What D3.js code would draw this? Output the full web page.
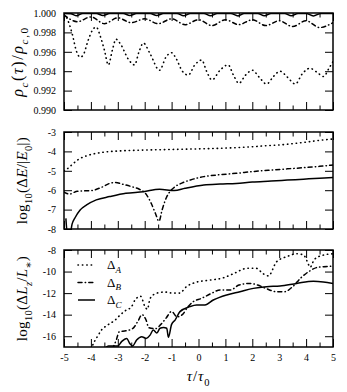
<!DOCTYPE html>
<html>
<head>
<meta charset="utf-8">
<script src="https://cdn.jsdelivr.net/npm/d3@7"></script>
<style>
body { margin: 0; background: #fff; }
svg { display: block; }
text { font-family: "Liberation Serif", "DejaVu Serif", serif; fill: #000; }
</style>
</head>
<body>
<svg id="chart"></svg>
<script>
'use strict';

// tick values
var tauTicks = [-5, -4, -3, -2, -1, 0, 1, 2, 3, 4, 5];
var tauMinor = [-4.5, -3.5, -2.5, -1.5, -0.5, 0.5, 1.5, 2.5, 3.5, 4.5];
var rhoTicks = [0.990, 0.992, 0.994, 0.996, 0.998, 1.000];
var energyTicks = [-8, -7, -6, -5, -4, -3];
var angTicks = [-16, -14, -12, -10, -8];

// panel 1: central density
var rhoA = [[-5, 0.99985], [-4.9, 0.9995], [-4.7, 0.9979], [-4.53, 0.9960], [-4.4, 0.99545], [-4.3, 0.9956],
    [-4.1, 0.9972], [-3.95, 0.9982], [-3.8, 0.99855], [-3.65, 0.9976], [-3.5, 0.9962], [-3.35, 0.99465],
    [-3.2, 0.9962], [-3.07, 0.9973], [-2.9, 0.9968], [-2.6, 0.9952], [-2.38, 0.99465], [-2.2, 0.9961],
    [-2.05, 0.9969], [-1.8, 0.9958], [-1.45, 0.9941], [-1.2, 0.9955], [-1.0, 0.9959], [-0.85, 0.9954],
    [-0.6, 0.9940], [-0.38, 0.9936], [-0.15, 0.9946], [0.12, 0.99515], [0.3, 0.9940], [0.5, 0.9931],
    [0.8, 0.9941], [1.1, 0.99465], [1.3, 0.9936], [1.5, 0.99275], [1.75, 0.9936], [2.0, 0.9941],
    [2.25, 0.9934], [2.53, 0.99268], [2.8, 0.9935], [3.03, 0.9940], [3.3, 0.9934], [3.6, 0.99268],
    [3.85, 0.9937], [4.14, 0.9943], [4.4, 0.9939], [4.65, 0.99345], [4.85, 0.9943], [5, 0.9950]];
var rhoB = [[-5, 0.9998], [-4.5, 0.9991], [-4, 0.9996], [-3.5, 0.9989], [-3, 0.9995], [-2.5, 0.9990],
    [-2, 0.9994], [-1.5, 0.9989], [-1, 0.9994], [-0.5, 0.9988], [0, 0.9993], [0.5, 0.9987], [1, 0.9993],
    [1.5, 0.9988], [2, 0.9993], [2.5, 0.9987], [3, 0.9992], [3.5, 0.9986], [4, 0.9992], [4.5, 0.9985],
    [5, 0.9990]];
var rhoC = [[-5, 0.99995], [-4.75, 0.99993], [-4.55, 0.99972], [-4.3, 0.99995], [-3.8, 0.99995], [-3.55, 0.99975],
    [-3.3, 0.99995], [-2.8, 0.99995], [-2.55, 0.99974], [-2.3, 0.99995], [-1.8, 0.99995], [-1.55, 0.99973],
    [-1.3, 0.99995], [-0.8, 0.99995], [-0.55, 0.99972], [-0.3, 0.99995], [0.2, 0.99995], [0.45, 0.99971],
    [0.7, 0.99995], [1.2, 0.99995], [1.47, 0.9997], [1.7, 0.99995], [2.2, 0.99995], [2.45, 0.99972],
    [2.7, 0.99995], [3.2, 0.99995], [3.45, 0.99971], [3.7, 0.99995], [4.0, 0.99995], [4.27, 0.9997],
    [4.55, 0.99995], [5, 0.99995]];

// panel 2: energy error
var eA = [[-5, -5.0], [-4.9, -4.92], [-4.7, -4.68], [-4.5, -4.45], [-4.3, -4.3], [-4.1, -4.2], [-3.8, -4.1],
    [-3.4, -4.02], [-3, -3.98], [-2.5, -3.95], [-2, -3.93], [-1, -3.9], [0, -3.87], [1, -3.83], [1.5, -3.8],
    [2, -3.76], [2.5, -3.71], [3, -3.67], [3.5, -3.6], [4, -3.52], [4.5, -3.43], [5, -3.36]];
var eB = [[-5, -6.1], [-4.8, -6.2], [-4.5, -6.05], [-4, -6.02], [-3.6, -5.85], [-3.3, -5.65], [-3.1, -5.6],
    [-2.8, -5.7], [-2.45, -5.83], [-2.2, -5.95], [-1.95, -6.2], [-1.75, -6.7], [-1.6, -7.2], [-1.47, -7.6],
    [-1.35, -7.0], [-1.2, -6.4], [-1.05, -6.05], [-0.9, -5.85], [-0.6, -5.62], [-0.3, -5.47], [0.2, -5.3],
    [0.8, -5.2], [1.4, -5.13], [2, -5.04], [2.7, -4.96], [3.3, -4.9], [3.9, -4.84], [4.5, -4.77], [5, -4.7]];
var eC = [[-4.93, -7.45], [-4.87, -8.3], [-4.78, -8.3], [-4.7, -7.75], [-4.59, -7.42], [-4.4, -7.02],
    [-4.16, -6.76], [-3.8, -6.5], [-3.3, -6.33], [-2.7, -6.16], [-2.05, -6.08], [-1.45, -5.95], [-0.9, -6.02],
    [-0.5, -5.9], [0.2, -5.73], [0.8, -5.68], [1.4, -5.65], [2, -5.58], [2.7, -5.53], [3.3, -5.48],
    [3.9, -5.43], [4.5, -5.38], [5, -5.34]];

// panel 3: angular momentum error
var lA = [[-4.0, -17.2], [-3.85, -16.4], [-3.75, -16.0], [-3.6, -15.4], [-3.4, -15.0], [-3.1, -14.5],
    [-2.9, -14.0], [-2.7, -13.6], [-2.5, -13.3], [-2.35, -12.6], [-2.15, -12.3], [-2.0, -13.2], [-1.9, -13.5],
    [-1.8, -12.5], [-1.55, -12.0], [-1.25, -11.9], [-0.95, -12.0], [-0.7, -12.0], [-0.45, -11.4],
    [-0.1, -11.0], [0.4, -10.8], [0.9, -10.6], [1.3, -10.2], [1.8, -9.7], [2.15, -9.7], [2.4, -10.2],
    [2.6, -10.4], [2.9, -9.1], [3.3, -8.6], [3.65, -8.35], [3.9, -8.45], [4.05, -9.1], [4.15, -9.6],
    [4.3, -8.9], [4.6, -8.5], [5, -8.35]];
var lB = [[-3.2, -17.2], [-3.05, -16.3], [-2.95, -15.6], [-2.7, -15.5], [-2.45, -15.3], [-2.25, -14.6],
    [-2.1, -14.0], [-1.95, -14.5], [-1.85, -15.2], [-1.6, -15.3], [-1.4, -14.9], [-1.2, -14.3], [-1.0, -13.7],
    [-0.8, -14.2], [-0.6, -14.0], [-0.4, -13.3], [-0.2, -12.8], [0.1, -12.5], [0.5, -12.0], [0.8, -11.7],
    [1.2, -11.7], [1.5, -11.25], [1.9, -11.1], [2.2, -11.25], [2.5, -11.56], [2.9, -11.87], [3.2, -11.87],
    [3.5, -11.4], [3.8, -10.6], [4.1, -10.0], [4.45, -9.6], [5, -9.5]];
var lC = [[-3.5, -17.2], [-3.35, -16.9], [-3.0, -16.9], [-2.86, -16.5], [-2.67, -16.2], [-2.55, -16.7],
    [-2.45, -16.9], [-2.3, -16.35], [-2.11, -16.04], [-1.95, -16.2], [-1.8, -15.9], [-1.68, -15.42],
    [-1.55, -15.7], [-1.43, -15.26], [-1.3, -15.2], [-1.18, -15.26], [-1.12, -16.1], [-1.0, -14.9],
    [-0.87, -14.5], [-0.69, -13.72], [-0.32, -13.25], [-0.07, -13.1], [0.24, -13.1], [0.55, -12.64],
    [1.05, -12.17], [1.54, -11.87], [2.04, -11.56], [2.53, -11.4], [3.03, -11.34], [3.65, -11.1],
    [4.27, -10.9], [4.64, -10.96], [5, -11.1]];

var legendNames = ['A', 'B', 'C'];

var width = 347, height = 392,
    left = 64, right = 333, ph = 97;

var svg = d3.select('#chart').attr('width', width).attr('height', height);

var x = d3.scaleLinear().domain([-5, 5]).range([left, right]);

var styles = {
    A: { dash: '0.4,4', cap: 'round', w: 1.6 },
    B: { dash: '4,3.2,0.4,3.2', cap: 'round', w: 1.5 },
    C: { dash: null, cap: 'butt', w: 1.5 }
};

// text with italic / subscript pieces: [string, flags] where flags has i and/or s
function rich(sel, parts, size) {
    var shift = 0;
    parts.forEach(function (p) {
        var f = p[1] || '',
            sub = f.indexOf('s') >= 0,
            want = sub ? size * 0.3 : 0,
            t = sel.append('tspan').text(p[0]);
        if (want !== shift) { t.attr('dy', want - shift); shift = want; }
        if (sub) t.attr('font-size', size * 0.7);
        if (f.indexOf('i') >= 0) t.attr('font-style', 'italic');
    });
}

var panels = [
    { top: 13, domain: [0.990, 1.000], ticks: rhoTicks, fmt: d3.format('.3f'), series: [rhoA, rhoB, rhoC],
      lx: 23, fs: 16, ls: 1.6,
      label: [['ρ', 'i'], ['c', 'is'], ['('], ['τ', 'i'], [')/'], ['ρ', 'i'], ['c', 'is'], [',0', 's']] },
    { top: 132, domain: [-8, -3], ticks: energyTicks, fmt: String, series: [eA, eB, eC],
      lx: 27, fs: 15, ls: 0.3,
      label: [['log'], ['10', 's'], ['(Δ'], ['E', 'i'], ['/|'], ['E', 'i'], ['0', 's'], ['|)']] },
    { top: 250, domain: [-17, -8], ticks: angTicks, fmt: String, series: [lA, lB, lC],
      lx: 27, fs: 15, ls: 0.3,
      label: [['log'], ['10', 's'], ['(Δ'], ['L', 'i'], ['z', 'is'], ['/'], ['L', 'i'], ['∗', 's'], [')']] }
];

panels.forEach(function (p, k) {
    var y = d3.scaleLinear().domain(p.domain).range([p.top + ph, p.top]);
    var g = svg.append('g');
    var clipId = 'clip' + k;

    svg.append('clipPath').attr('id', clipId)
        .append('rect').attr('x', left).attr('y', p.top).attr('width', right - left).attr('height', ph);

    var line = d3.line()
        .x(function (d) { return x(d[0]); })
        .y(function (d) { return y(d[1]); })
        .curve(d3.curveMonotoneX);

    p.series.forEach(function (s, j) {
        var st = styles[legendNames[j]];
        g.append('path')
            .attr('clip-path', 'url(#' + clipId + ')')
            .attr('d', line(s))
            .attr('fill', 'none')
            .attr('stroke', '#000')
            .attr('stroke-width', st.w)
            .attr('stroke-linecap', st.cap)
            .attr('stroke-dasharray', st.dash);
    });

    // inward ticks on all four sides
    function tidy(a) { a.select('.domain').remove(); a.selectAll('line').attr('stroke', '#000'); return a; }

    var bottom = g.append('g').attr('transform', 'translate(0,' + (p.top + ph) + ')')
        .call(d3.axisBottom(x).tickValues(tauTicks).tickSize(-8).tickPadding(7)
            .tickFormat(k === 2 ? String : ''));
    tidy(bottom).selectAll('text').attr('font-size', 10).attr('font-family', null);
    tidy(g.append('g').attr('transform', 'translate(0,' + (p.top + ph) + ')')
        .call(d3.axisBottom(x).tickValues(tauMinor).tickSize(-4.5).tickFormat('')));
    tidy(g.append('g').attr('transform', 'translate(0,' + p.top + ')')
        .call(d3.axisTop(x).tickValues(tauTicks).tickSize(-8).tickFormat('')));
    tidy(g.append('g').attr('transform', 'translate(0,' + p.top + ')')
        .call(d3.axisTop(x).tickValues(tauMinor).tickSize(-4.5).tickFormat('')));

    var leftAxis = g.append('g').attr('transform', 'translate(' + left + ',0)')
        .call(d3.axisLeft(y).tickValues(p.ticks).tickSize(-8).tickPadding(8).tickFormat(p.fmt));
    tidy(leftAxis).selectAll('text').attr('font-size', 10).attr('font-family', null);
    tidy(g.append('g').attr('transform', 'translate(' + right + ',0)')
        .call(d3.axisRight(y).tickValues(p.ticks).tickSize(-8).tickFormat('')));

    g.append('rect')
        .attr('x', left).attr('y', p.top).attr('width', right - left).attr('height', ph)
        .attr('fill', 'none').attr('stroke', '#000').attr('stroke-width', 1.5);

    var lab = g.append('text')
        .attr('transform', 'translate(' + p.lx + ',' + (p.top + ph / 2) + ') rotate(-90)')
        .attr('text-anchor', 'middle')
        .attr('letter-spacing', p.ls)
        .attr('font-size', p.fs);
    rich(lab, p.label, p.fs);
});

// x label
var xl = svg.append('text').attr('x', (left + right) / 2).attr('y', 381)
    .attr('text-anchor', 'middle').attr('font-size', 15).attr('letter-spacing', 0.8);
rich(xl, [['τ', 'i'], ['/'], ['τ', 'i'], ['0', 's']], 15);

// legend in bottom panel
var leg = svg.append('g');
legendNames.forEach(function (n, i) {
    var st = styles[n], yy = 265 + i * 17.5;
    leg.append('line')
        .attr('x1', 78).attr('x2', 95).attr('y1', yy).attr('y2', yy)
        .attr('stroke', '#000').attr('stroke-width', st.w)
        .attr('stroke-linecap', st.cap).attr('stroke-dasharray', st.dash);
    var t = leg.append('text').attr('x', 107).attr('y', yy + 4).attr('font-size', 13);
    rich(t, [['Δ'], [n, 'is']], 13);
});
</script>
</body>
</html>
